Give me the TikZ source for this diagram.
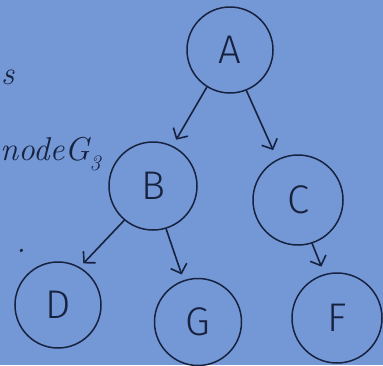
\documentclass[tikz,border=0pt]{standalone}
\usepackage{fontspec}
\setmainfont{Fira Sans}[UprightFont={* Light}]
\newfontfamily\notefont{Latin Modern Roman}
\usetikzlibrary{arrows.meta}
\definecolor{board}{HTML}{7497D6}
\definecolor{ink}{HTML}{17223F}
\tikzset{
  vertex/.style={circle, draw=ink, line width=1.5pt, inner sep=0pt,
    minimum size=#1, text=ink, font=\fontsize{40}{40}\selectfont},
  vertex/.default=86pt,
  edge/.style={draw=ink, line width=1.6pt, line cap=round,
    -{Straight Barb[length=8pt,width=17pt,line width=1.6pt]}},
  note/.style={text=ink, font=\notefont\itshape\fontsize{33}{33}\selectfont, inner sep=0pt}
}
\begin{document}
\begin{tikzpicture}[x=1pt,y=-1pt]
  \useasboundingbox (0,0) rectangle (383,365);
  \fill[board] (0,0) rectangle (383,365);
  % margin notes
  \node[note, anchor=base west] (n1) at (1,84) {s};
  \node[note, anchor=base west] (n2) at (0,160)
    {nodeG\raisebox{-10pt}{\fontsize{22}{22}\selectfont 3}};
  \node[note, anchor=base west] (n3) at (16,252) {.};
  % tree
  \node[vertex=86pt] (A) at (230,50) {A};
  \node[vertex=88pt] (B) at (153,186) {B};
  \node[vertex=90pt] (C) at (298,200) {C};
  \node[vertex=86pt] (D) at (58,305) {D};
  \node[vertex=87pt] (G) at (198,322) {G};
  \node[vertex=90pt] (F) at (337,318) {F};
  \begin{scope}
    \clip (0,0) rectangle (383,365);
    \draw[edge, shorten >=7pt] (A.238) -- (B.64);
    \draw[edge, shorten >=10pt] (A.292) -- (C.117);
    \draw[edge, shorten >=5pt] (B.230) -- (D.60);
    \draw[edge, shorten >=6pt] (B.287) -- (G.109);
    \draw[edge, shorten >=8pt] (C.288) -- (F.106);
  \end{scope}
\end{tikzpicture}
\end{document}
